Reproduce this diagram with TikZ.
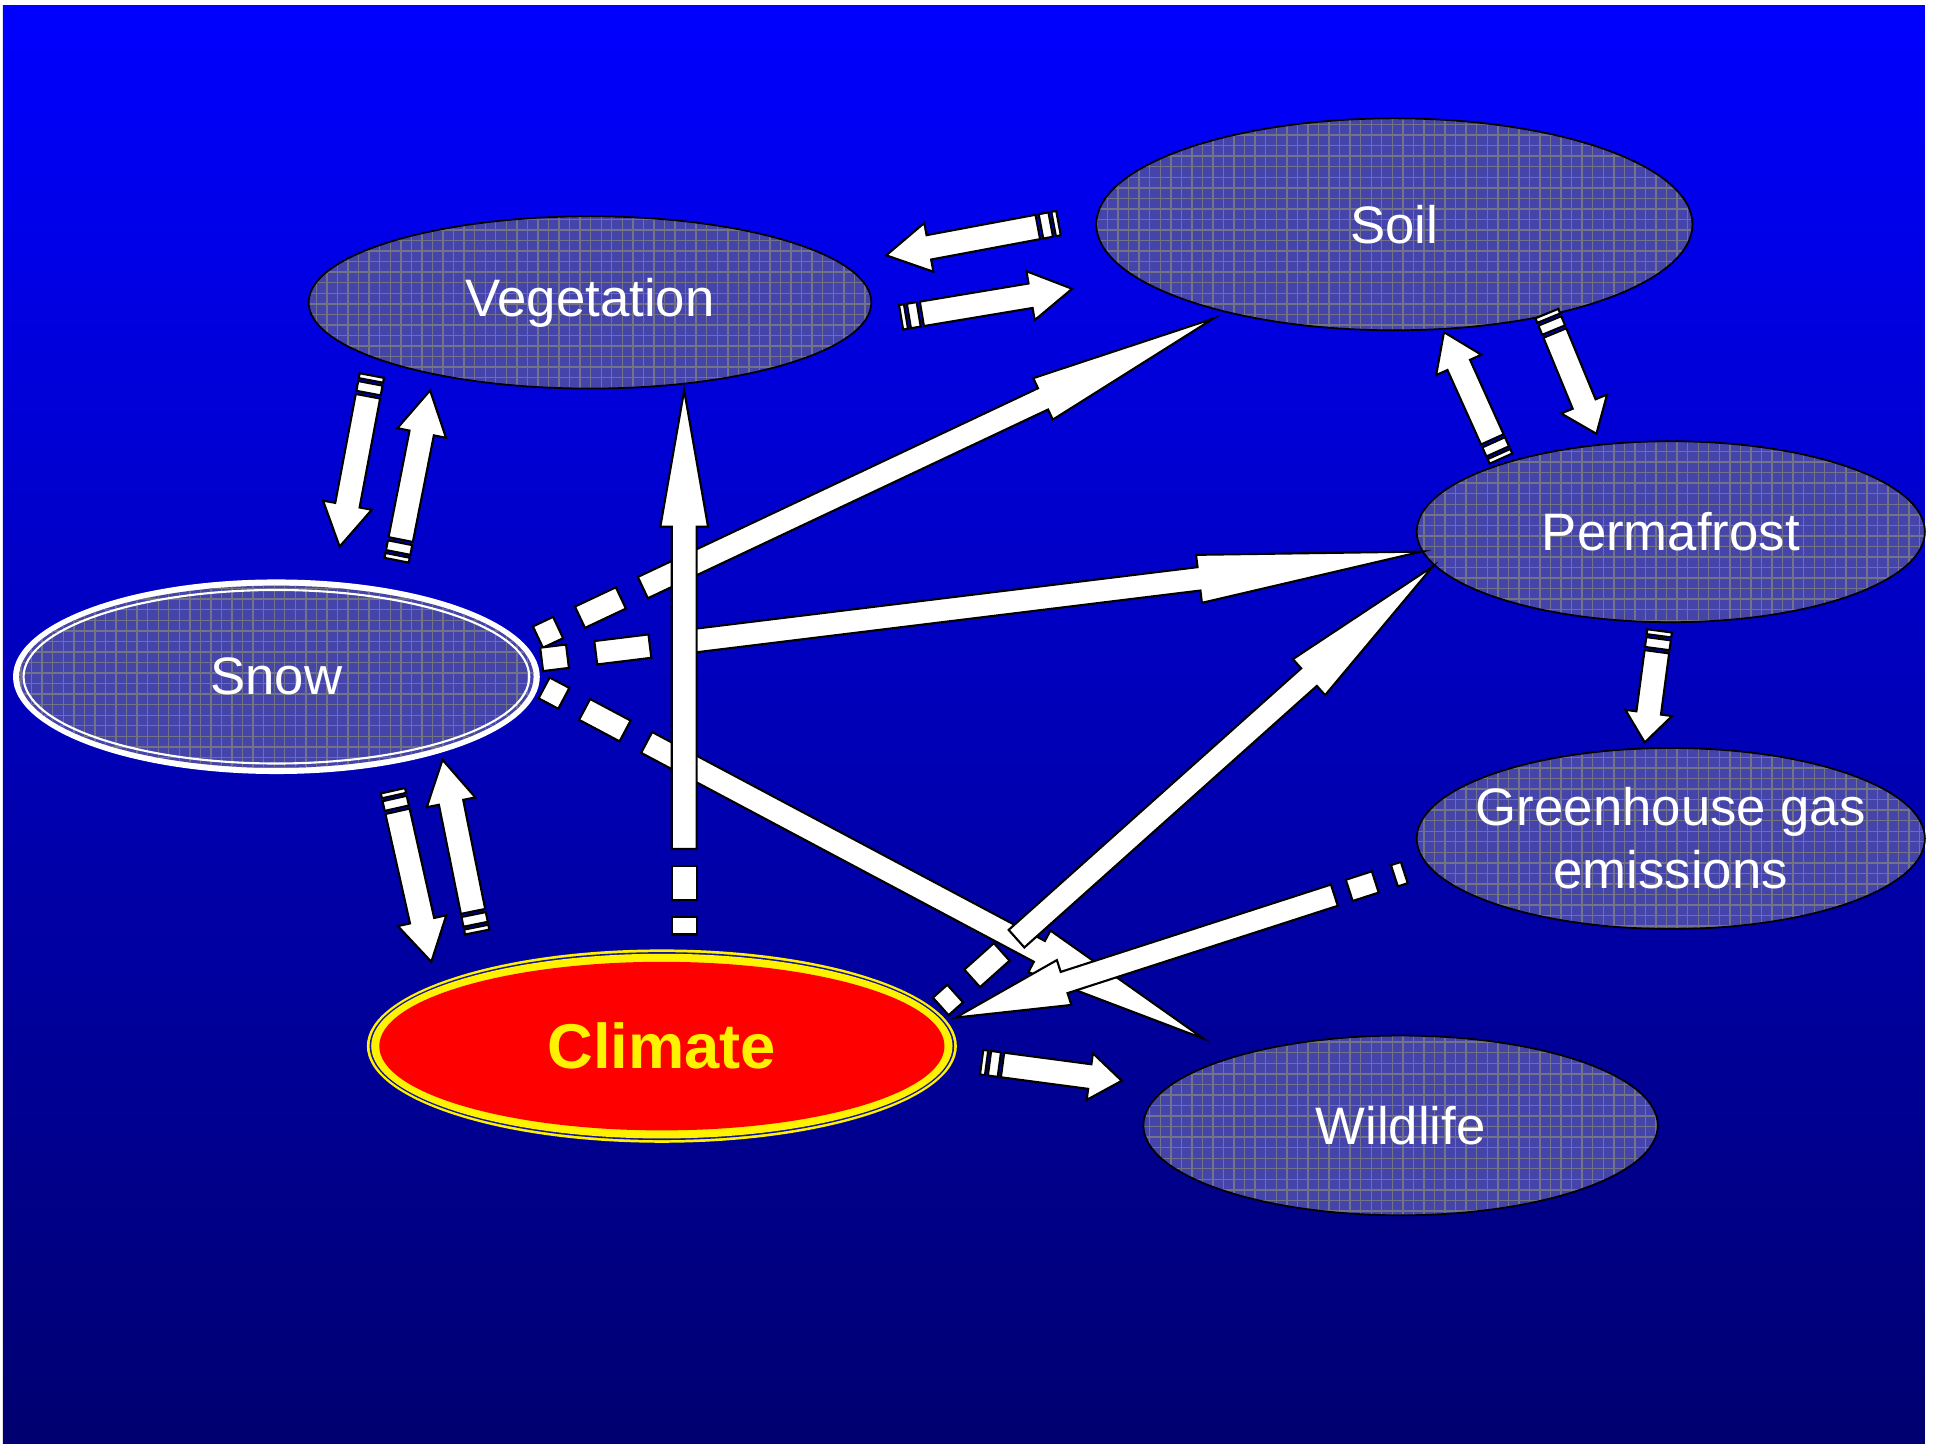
\documentclass[tikz,border=0pt]{standalone}
\usepackage{fontspec}
\setmainfont{Liberation Sans}
\usetikzlibrary{calc,positioning,shapes.geometric,patterns}

\definecolor{bgtop}{RGB}{0,0,255}
\definecolor{bgbot}{RGB}{0,0,112}
\definecolor{ellfill}{RGB}{68,68,170}
\definecolor{ellgrid}{RGB}{115,115,135}
\definecolor{ringblue}{RGB}{20,20,150}

\def\pxu{0.0123944cm}

\tikzset{
  arrowbody/.style={fill=white, draw=black, line width=0.6pt, line join=miter},
  ellbox/.style={ellipse, inner sep=0pt, draw=black, line width=0.5pt,
    preaction={fill=ellfill}, pattern=grid, pattern color=ellgrid,
    text=white, font=\fontsize{15}{18}\selectfont, align=center},
}

% piece of a shaft: tail #1, tip #2, from #3 to #4, width #5
\newcommand{\shaftpiece}[5]{%
  \coordinate (sp-a) at ($(#1)!#3*\pxu!(#2)$);
  \coordinate (sp-b) at ($(#1)!#4*\pxu!(#2)$);
  \draw[arrowbody] ($(sp-a)!#5/2*\pxu!90:(#2)$) -- ($(sp-b)!#5/2*\pxu!90:(#2)$)
    -- ($(sp-b)!#5/2*\pxu!-90:(#2)$) -- ($(sp-a)!#5/2*\pxu!-90:(#2)$) -- cycle;
}
% block arrow: tail #1, tip #2, start #3, shaft #4, head width #5, head length #6
\newcommand{\blockarrow}[6]{%
  \coordinate (ba-s) at ($(#1)!#3*\pxu!(#2)$);
  \coordinate (ba-n) at ($(#2)!#6*\pxu!(#1)$);
  \draw[arrowbody] ($(ba-s)!#4/2*\pxu!90:(#2)$) -- ($(ba-n)!#4/2*\pxu!90:(#2)$)
    -- ($(ba-n)!#5/2*\pxu!90:(#2)$) -- (#2)
    -- ($(ba-n)!#5/2*\pxu!-90:(#2)$) -- ($(ba-n)!#4/2*\pxu!-90:(#2)$)
    -- ($(ba-s)!#4/2*\pxu!-90:(#2)$) -- cycle;
}
% striped arrow: tail, tip, shaft, head width, head length
\newcommand{\stripedarrow}[5]{%
  \shaftpiece{#1}{#2}{0}{0.2*#3}{#3}
  \shaftpiece{#1}{#2}{0.32*#3}{0.72*#3}{#3}
  \blockarrow{#1}{#2}{0.85*#3}{#3}{#4}{#5}
}

\begin{document}
\begin{tikzpicture}[x=\pxu, y=-\pxu]
  \fill[white] (0,0) rectangle (1562,1164.25);
  \shade[top color=bgtop, bottom color=bgbot] (2.4,4.8) rectangle (1553,1164.25);

  \node[ellbox, minimum width=454*\pxu, minimum height=139*\pxu] (veg) at (476,244) {Vegetation};
  \node[ellbox, minimum width=481*\pxu, minimum height=171*\pxu] (soil) at (1125,181) {Soil};
  \node[ellbox, minimum width=410*\pxu, minimum height=146*\pxu] (perma) at (1348,429) {Permafrost};
  \node[ellbox, inner xsep=-6pt, minimum width=410*\pxu, minimum height=146*\pxu, below=1.24cm of perma] (ghg) {Greenhouse gas\\emissions};
  \node[ellbox, minimum width=415*\pxu, minimum height=145*\pxu] (wild) at (1130,908) {Wildlife};

  % snow with its white rim
  \coordinate (snow-c) at (223,546);
  \fill[white] (snow-c) ellipse [x radius=212.5, y radius=78.5];
  \node[ellbox, draw=none, minimum width=415*\pxu, minimum height=147*\pxu] (snow) at (snow-c) {Snow};
  \draw[white, line width=0.6pt] (snow-c) ellipse [x radius=204, y radius=70];

  % climate with yellow rim
  \coordinate (clim-c) at (534,844);
  \fill[yellow] (clim-c) ellipse [x radius=238, y radius=78];
  \fill[ringblue] (clim-c) ellipse [x radius=235.8, y radius=75.8];
  \fill[yellow] (clim-c) ellipse [x radius=234.5, y radius=74.5];
  \node[ellipse, inner sep=0pt, fill=red, minimum width=456*\pxu, minimum height=136*\pxu,
    text=yellow, font=\fontsize{18}{22}\selectfont\bfseries] (climate) at (clim-c) {Climate};

  % ends of the small arrows
  \coordinate (so2ve-t) at (854,180);  \coordinate (so2ve-h) at (715,206);
  \coordinate (ve2so-t) at (727,256);  \coordinate (ve2so-h) at (865,233);
  \coordinate (ve2sn-t) at (300,303);  \coordinate (ve2sn-h) at (274,441);
  \coordinate (sn2ve-t) at (320,452);  \coordinate (sn2ve-h) at (347,315);
  \coordinate (sn2cl-t) at (317,638);  \coordinate (sn2cl-h) at (348,776);
  \coordinate (cl2sn-t) at (385,752);  \coordinate (cl2sn-h) at (357,613);
  \coordinate (so2pe-t) at (1248,253); \coordinate (so2pe-h) at (1288,350);
  \coordinate (pe2so-t) at (1211,370); \coordinate (pe2so-h) at (1165,268);
  \coordinate (pe2gh-t) at (1339,509); \coordinate (pe2gh-h) at (1327,599);
  \coordinate (cl2wi-t) at (792,857);  \coordinate (cl2wi-h) at (905,872);
  % ends of the long arrows
  \coordinate (cl2ve-t) at (552,754);  \coordinate (cl2ve-h) at (552,315);
  \coordinate (sn2so-t) at (434,514);  \coordinate (sn2so-h) at (979,257);
  \coordinate (sn2pe-t) at (437,532);  \coordinate (sn2pe-h) at (1147,445);
  \coordinate (sn2wi-t) at (439,555);  \coordinate (sn2wi-h) at (971,838);
  \coordinate (cl2pe-t) at (759,812);  \coordinate (cl2pe-h) at (1156,457);
  \coordinate (gh2cl-t) at (1133,704); \coordinate (gh2cl-h) at (771,821);

  \stripedarrow{so2ve-t}{so2ve-h}{20}{40}{35}
  \stripedarrow{ve2so-t}{ve2so-h}{20}{40}{34}
  \stripedarrow{ve2sn-t}{ve2sn-h}{20}{40}{34}
  \stripedarrow{sn2ve-t}{sn2ve-h}{20}{40}{35}
  \stripedarrow{sn2cl-t}{sn2cl-h}{20}{40}{34}
  \stripedarrow{cl2sn-t}{cl2sn-h}{20}{40}{35}
  \stripedarrow{so2pe-t}{so2pe-h}{20}{40}{26}
  \stripedarrow{pe2so-t}{pe2so-h}{20}{40}{29}
  \stripedarrow{pe2gh-t}{pe2gh-h}{20}{38}{24}
  \stripedarrow{cl2wi-t}{cl2wi-h}{20}{38}{26}

  % snow -> soil
  \shaftpiece{sn2so-t}{sn2so-h}{0}{18}{19}
  \shaftpiece{sn2so-t}{sn2so-h}{37.5}{74}{19}
  \blockarrow{sn2so-t}{sn2so-h}{93.6}{19}{37}{152}
  % snow -> permafrost
  \shaftpiece{sn2pe-t}{sn2pe-h}{0}{21}{19}
  \shaftpiece{sn2pe-t}{sn2pe-h}{44}{88}{19}
  \blockarrow{sn2pe-t}{sn2pe-h}{112}{19}{39}{181}
  % snow -> wildlife
  \shaftpiece{sn2wi-t}{sn2wi-h}{0}{18}{19}
  \shaftpiece{sn2wi-t}{sn2wi-h}{37}{74}{19}
  \blockarrow{sn2wi-t}{sn2wi-h}{93.7}{19}{38}{150}
  % climate -> permafrost
  \shaftpiece{cl2pe-t}{cl2pe-h}{0}{15.6}{19}
  \shaftpiece{cl2pe-t}{cl2pe-h}{34}{66}{19}
  \blockarrow{cl2pe-t}{cl2pe-h}{82}{19}{39}{134}
  % greenhouse gas -> climate
  \shaftpiece{gh2cl-t}{gh2cl-h}{0}{8.4}{18}
  \shaftpiece{gh2cl-t}{gh2cl-h}{24.6}{46.7}{18}
  \blockarrow{gh2cl-t}{gh2cl-h}{59.3}{18}{38}{92}
  % climate -> vegetation
  \shaftpiece{cl2ve-t}{cl2ve-h}{0}{14}{20}
  \shaftpiece{cl2ve-t}{cl2ve-h}{28}{55}{20}
  \blockarrow{cl2ve-t}{cl2ve-h}{69}{20}{38.5}{110}
\end{tikzpicture}
\end{document}
